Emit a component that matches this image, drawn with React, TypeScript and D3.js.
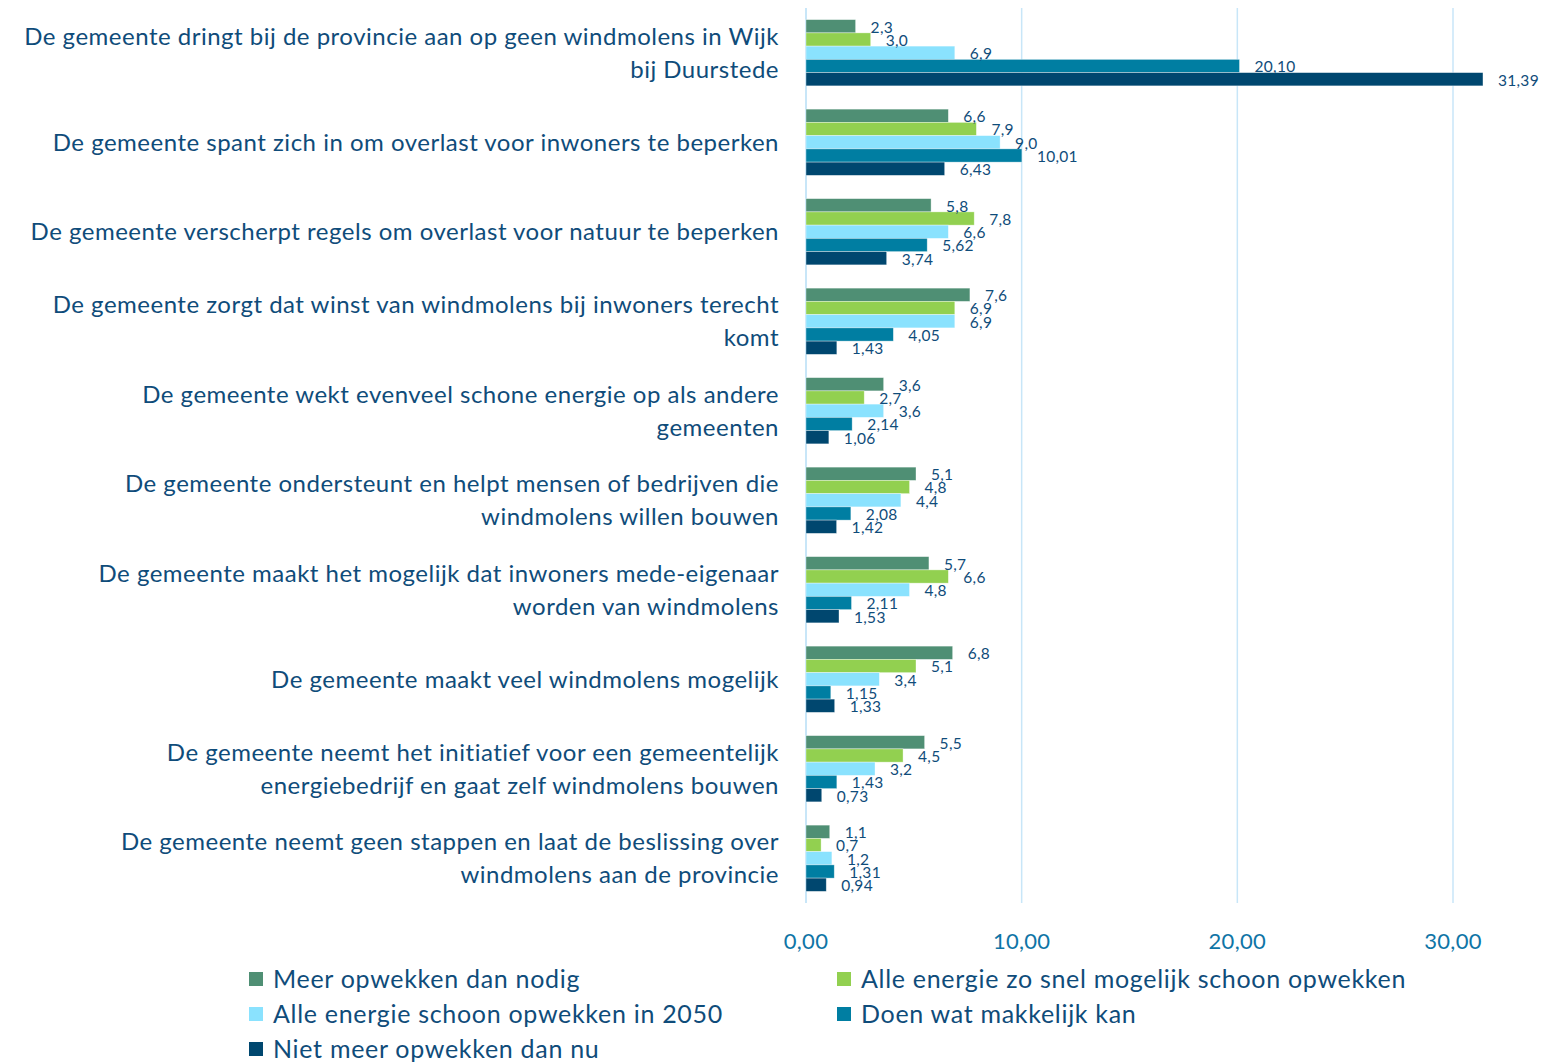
import React from "react";
import * as d3 from "d3";

// category labels, already broken into lines as in the source chart
const categories: string[][] = [
  ["De gemeente dringt bij de provincie aan op geen windmolens in Wijk", "bij Duurstede"],
  ["De gemeente spant zich in om overlast voor inwoners te beperken"],
  ["De gemeente verscherpt regels om overlast voor natuur te beperken"],
  ["De gemeente zorgt dat winst van windmolens bij inwoners terecht", "komt"],
  ["De gemeente wekt evenveel schone energie op als andere", "gemeenten"],
  ["De gemeente ondersteunt en helpt mensen of bedrijven die", "windmolens willen bouwen"],
  ["De gemeente maakt het mogelijk dat inwoners mede-eigenaar", "worden van windmolens"],
  ["De gemeente maakt veel windmolens mogelijk"],
  ["De gemeente neemt het initiatief voor een gemeentelijk", "energiebedrijf en gaat zelf windmolens bouwen"],
  ["De gemeente neemt geen stappen en laat de beslissing over", "windmolens aan de provincie"],
];

const seriesNames = [
  "Meer opwekken dan nodig",
  "Alle energie zo snel mogelijk schoon opwekken",
  "Alle energie schoon opwekken in 2050",
  "Doen wat makkelijk kan",
  "Niet meer opwekken dan nu",
];

const meerDanNodig = [2.3, 6.6, 5.8, 7.6, 3.6, 5.1, 5.7, 6.8, 5.5, 1.1];
const zoSnelMogelijk = [3.0, 7.9, 7.8, 6.9, 2.7, 4.8, 6.6, 5.1, 4.5, 0.7];
const schoonIn2050 = [6.9, 9.0, 6.6, 6.9, 3.6, 4.4, 4.8, 3.4, 3.2, 1.2];
const makkelijkKan = [20.1, 10.01, 5.62, 4.05, 2.14, 2.08, 2.11, 1.15, 1.43, 1.31];
const nietMeerDanNu = [31.39, 6.43, 3.74, 1.43, 1.06, 1.42, 1.53, 1.33, 0.73, 0.94];

const seriesValues = [meerDanNodig, zoSnelMogelijk, schoonIn2050, makkelijkKan, nietMeerDanNu];
const seriesDecimals = [1, 1, 1, 2, 2];
const xTicks = [0, 10, 20, 30];

const colors = ["#4f8f74", "#92d050", "#8ae2fe", "#007ea2", "#00476f"];
const textColor = "#0f4c7a";
const tickColor = "#0f75a6";
const gridColor = "#c8e6f8";
const font = "'Source Sans Pro', Lato, 'Noto Sans', sans-serif";

const nl = d3.formatLocale({ decimal: ",", thousands: ".", grouping: [3], currency: ["€", ""] });

export default function App() {
  const width = 1561;
  const height = 1063;
  const plotLeft = 806;
  const plotTop = 8;
  const plotBottom = 903;
  const unit = (1453 - 806) / 30;

  const x = d3.scaleLinear().domain([0, 34]).range([plotLeft, plotLeft + 34 * unit]);
  const y = d3
    .scaleBand<number>()
    .domain(d3.range(categories.length))
    .range([plotTop, plotBottom])
    .paddingInner(0.26)
    .paddingOuter(0.13);
  const inner = d3
    .scaleBand<number>()
    .domain(d3.range(seriesNames.length))
    .range([0, y.bandwidth()]);

  const legendPos = [
    { x: 249, y: 979 },
    { x: 837, y: 979 },
    { x: 249, y: 1014 },
    { x: 837, y: 1014 },
    { x: 249, y: 1049 },
  ];

  return (
    <svg
      width={width}
      height={height}
      style={{ position: "absolute", left: 0, top: 0, background: "#fff" }}
      fontFamily={font}
    >
      {/* grid + zero line */}
      {xTicks.map((t) => (
        <line
          key={"g" + t}
          x1={x(t)}
          x2={x(t)}
          y1={plotTop}
          y2={plotBottom}
          stroke={gridColor}
          strokeWidth={t === 0 ? 2 : 1.5}
        />
      ))}

      {/* bars */}
      {categories.map((_, ci) => (
        <g key={"c" + ci} transform={`translate(0,${y(ci)})`}>
          {seriesValues.map((vals, si) => (
            <rect
              key={si}
              x={x(0)}
              y={inner(si)}
              width={x(vals[ci]) - x(0)}
              height={inner.bandwidth()}
              fill={colors[si]}
              stroke="#ffffff"
              strokeOpacity={0.5}
              strokeWidth={0.7}
            />
          ))}
          {seriesValues.map((vals, si) => (
            <text
              key={"l" + si}
              x={x(vals[ci]) + 15}
              y={(inner(si) ?? 0) + inner.bandwidth() / 2 + 1}
              dy="0.35em"
              fontSize={15.5}
              letterSpacing={0.3}
              fill={textColor}
            >
              {nl.format(`.${seriesDecimals[si]}f`)(vals[ci])}
            </text>
          ))}
        </g>
      ))}

      {/* category labels */}
      {categories.map((lines, ci) => {
        const cy = (y(ci) ?? 0) + y.bandwidth() / 2;
        const lh = 33;
        const start = cy - ((lines.length - 1) * lh) / 2;
        return (
          <text
            key={"t" + ci}
            textAnchor="end"
            fontSize={24}
            letterSpacing={0.5}
            fill={textColor}
          >
            {lines.map((ln, li) => (
              <tspan key={li} x={779} y={start + li * lh} dy="0.35em">
                {ln}
              </tspan>
            ))}
          </text>
        );
      })}

      {/* x axis tick labels */}
      {xTicks.map((t) => (
        <text
          key={"x" + t}
          x={x(t)}
          y={941}
          dy="0.35em"
          textAnchor="middle"
          fontSize={22}
          letterSpacing={0.3}
          fill={tickColor}
        >
          {nl.format(".2f")(t)}
        </text>
      ))}

      {/* legend */}
      {seriesNames.map((name, si) => (
        <g key={"lg" + si} transform={`translate(${legendPos[si].x},${legendPos[si].y})`}>
          <rect x={0} y={-7} width={14} height={14} fill={colors[si]} />
          <text x={24} y={0} dy="0.35em" fontSize={25} letterSpacing={0.7} fill={textColor}>
            {name}
          </text>
        </g>
      ))}
    </svg>
  );
}
